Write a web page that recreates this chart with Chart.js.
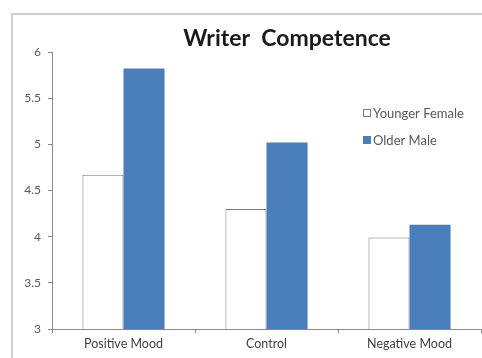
<!DOCTYPE html>
<html>
<head>
<meta charset="utf-8">
<script src="https://cdn.jsdelivr.net/npm/chart.js@4/dist/chart.umd.min.js"></script>
<style>
  html, body { margin: 0; padding: 0; background: #fff; }
  #wrap { position: relative; width: 482px; height: 358px; overflow: hidden; }
  #frame { position: absolute; left: 11px; top: 13px; width: 600px; height: 500px;
           border: 2px solid #cfcfcf; box-sizing: border-box; }
  canvas { position: absolute; left: 0; top: 0; }
</style>
</head>
<body>
<div id="wrap">
  <div id="frame"></div>
  <canvas id="c" width="482" height="358"></canvas>
</div>
<script>
const categories = ['Positive Mood', 'Control', 'Negative Mood'];
const youngerFemale = [4.67, 4.30, 3.99];
const olderMale = [5.82, 5.02, 4.13];
const yTicks = [3, 3.5, 4, 4.5, 5, 5.5, 6];
const chartTitle = 'Writer  Competence';

const FONT = 'Lato, "Open Sans", sans-serif';

// Title and legend painted over the plot, where the original layout puts them
const overlay = {
  id: 'overlay',
  afterDraw(chart) {
    const ctx = chart.ctx;
    ctx.save();
    ctx.fillStyle = '#1a1a1a';
    ctx.font = 'bold 23px ' + FONT;
    ctx.textAlign = 'center';
    ctx.textBaseline = 'middle';
    ctx.fillText(chartTitle, 287, 39);

    ctx.font = '13px ' + FONT;
    ctx.textAlign = 'left';
    const rows = [113, 140];
    chart.data.datasets.forEach((ds, i) => {
      const y = rows[i];
      ctx.fillStyle = ds.backgroundColor;
      ctx.fillRect(363.5, y - 3.5, 7, 7);
      ctx.strokeStyle = ds.borderColor;
      ctx.lineWidth = 1;
      ctx.strokeRect(363.5, y - 3.5, 7, 7);
      ctx.fillStyle = '#595959';
      ctx.fillText(ds.label, 373, y + 0.5);
    });
    ctx.restore();
  }
};

new Chart(document.getElementById('c'), {
  type: 'bar',
  data: {
    labels: categories,
    datasets: [
      { label: 'Younger Female', data: youngerFemale, backgroundColor: '#ffffff',
        borderColor: '#7a7a7a', borderWidth: 1 },
      { label: 'Older Male', data: olderMale, backgroundColor: '#4a7ebb',
        borderColor: '#4a7ebb', borderWidth: 0 }
    ]
  },
  options: {
    responsive: false,
    animation: false,
    devicePixelRatio: 1,
    layout: { padding: { top: 52, right: 1, bottom: 0, left: 0 } },
    datasets: { bar: { categoryPercentage: 0.574, barPercentage: 1 } },
    plugins: { legend: { display: false }, title: { display: false }, tooltip: { enabled: false } },
    scales: {
      x: {
        grid: { display: true, drawOnChartArea: false, offset: true, tickLength: 4, color: '#8a8a8a' },
        border: { color: '#8a8a8a' },
        ticks: { color: '#404040', font: { family: FONT, size: 12.5 }, padding: 3 },
        afterFit(s) { s.height = 29; }
      },
      y: {
        min: 3, max: 6,
        afterBuildTicks(s) { s.ticks = yTicks.map(v => ({ value: v })); },
        grid: { display: true, drawOnChartArea: false, tickLength: 4, color: '#8a8a8a' },
        border: { color: '#8a8a8a' },
        ticks: { color: '#595959', font: { family: FONT, size: 12 }, padding: 7,
                 callback: v => String(v) },
        afterFit(s) { s.width = 52; }
      }
    }
  },
  plugins: [overlay]
});
</script>
</body>
</html>
